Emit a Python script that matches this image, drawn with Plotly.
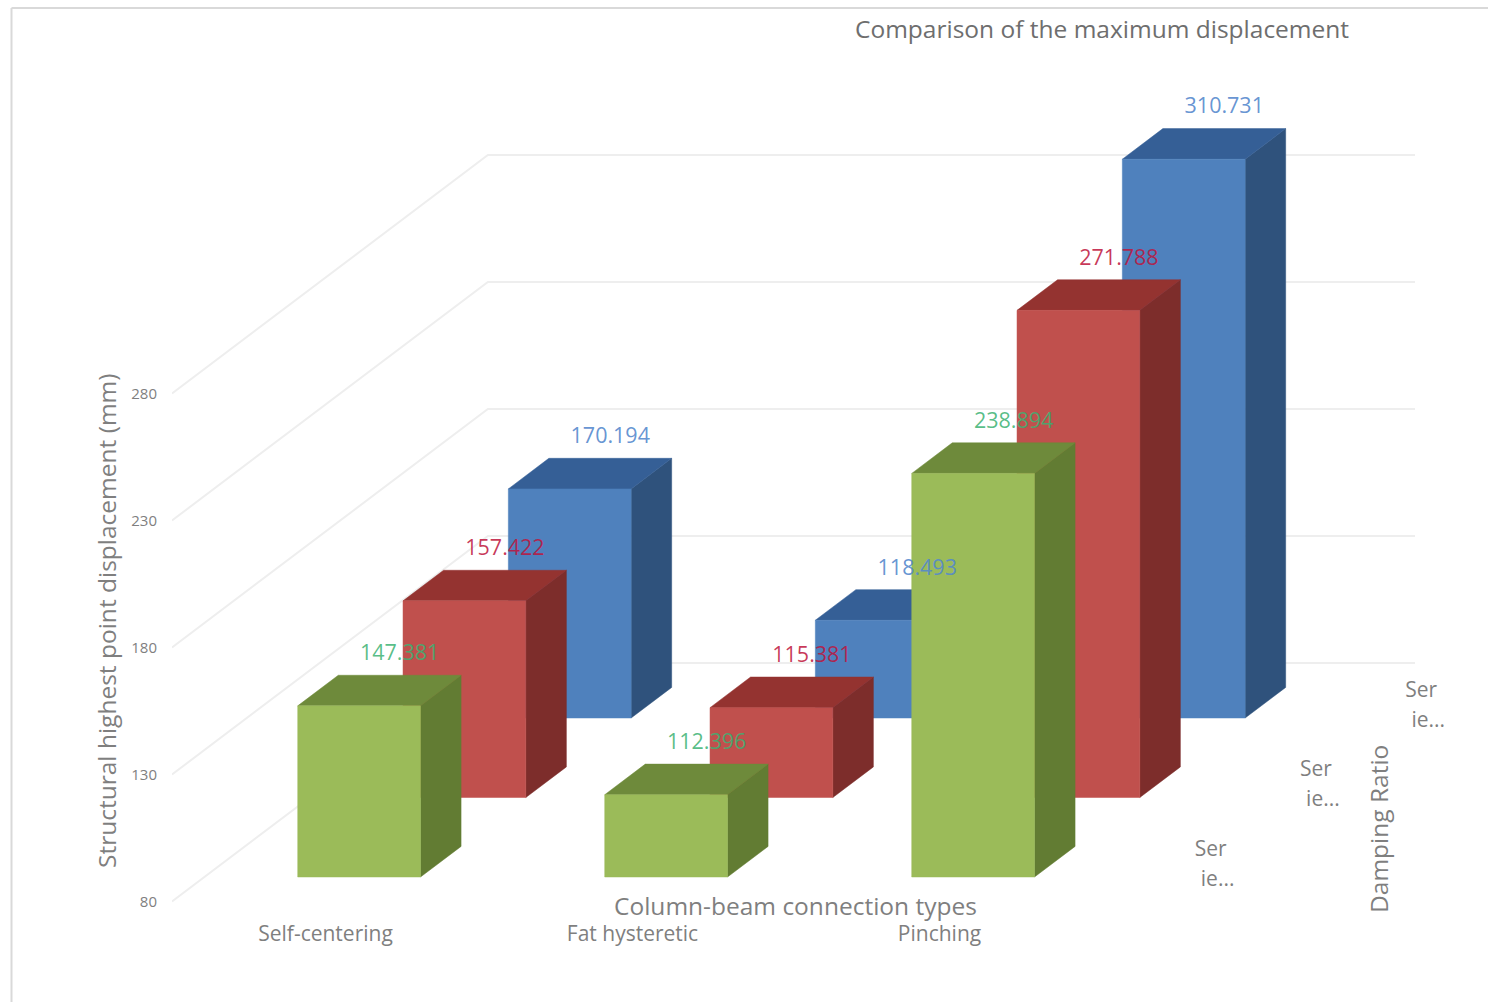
import plotly.graph_objects as go

# ---- data ----
categories = ["Self-centering", "Fat hysteretic", "Pinching"]
series_names = ["Series3", "Series2", "Series1"]          # back to front
values_blue = [170.194, 118.493, 310.731]
values_red = [157.422, 115.381, 271.788]
values_green = [147.381, 112.396, 238.894]
tick_values = [80, 130, 180, 230, 280]
depth_label_lines = ["Ser", "ie..."]

# ---- chart geometry (oblique 3-D column chart) ----
AXIS_MIN, AXIS_MAX = 80, 300
W, H = 1488, 1002
PX_CAT, PX_VAL = 307.0, 2.54      # pixels per category, per value unit
PX_DX, PX_DY = 105.3, 79.5        # pixels per depth unit
LEFT_PX, BOTTOM_PX, FLOOR_PX = 172, 919, 901.5
DX, DY = PX_DX / PX_CAT, PX_DY / PX_VAL
BAR_W, BAR_D = 0.40, 0.385
BAR_SHIFT = 1.2 / PX_CAT
DEPTH_START = 0.308
N_DEPTH = 3

FONT = "Open Sans"
GREY = "#7f7f7f"

styles = [
    dict(vals=values_blue, depth=2, front="#4f81bd", top="#355f96", side="#2f527c", text="rgba(84,136,205,0.9)"),
    dict(vals=values_red, depth=1, front="#c0504d", top="#943330", side="#7d2d2b", text="rgba(190,20,60,0.85)"),
    dict(vals=values_green, depth=0, front="#9bbb59", top="#6e8a3b", side="#627c33", text="rgba(60,178,115,0.85)"),
]


def proj(c, v, d):
    return c + DX * d, v + DY * d


def poly(points):
    xs, ys = [], []
    for c, v, d in points:
        x, y = proj(c, v, d)
        xs.append(x)
        ys.append(y)
    xs.append(xs[0])
    ys.append(ys[0])
    return xs, ys


def faces(vals, depth):
    d0 = depth + DEPTH_START
    d1 = d0 + BAR_D
    out = {"front": ([], []), "top": ([], []), "side": ([], [])}
    for i, raw in enumerate(vals):
        v = min(raw, AXIS_MAX)
        c0, c1 = i + BAR_SHIFT - BAR_W / 2, i + BAR_SHIFT + BAR_W / 2
        shapes = {
            "side": [(c1, AXIS_MIN, d0), (c1, AXIS_MIN, d1), (c1, v, d1), (c1, v, d0)],
            "top": [(c0, v, d0), (c1, v, d0), (c1, v, d1), (c0, v, d1)],
            "front": [(c0, AXIS_MIN, d0), (c1, AXIS_MIN, d0), (c1, v, d0), (c0, v, d0)],
        }
        for k, pts in shapes.items():
            xs, ys = poly(pts)
            out[k][0].extend(xs + [None])
            out[k][1].extend(ys + [None])
    return out


fig = go.Figure()

# wall gridlines
gx, gy = [], []
for t in tick_values:
    for c, d in [(-0.5, 0), (-0.5, N_DEPTH), (2.52, N_DEPTH)]:
        x, y = proj(c, t, d)
        gx.append(x)
        gy.append(y)
    gx.append(None)
    gy.append(None)
fig.add_trace(go.Scatter(x=gx, y=gy, mode="lines", line=dict(color="#eeeeee", width=2),
                         hoverinfo="skip", showlegend=False))

# columns, back to front
for name, st in zip(series_names, styles):
    f = faces(st["vals"], st["depth"])
    for k in ["side", "top", "front"]:
        fig.add_trace(go.Scatter(x=f[k][0], y=f[k][1], mode="lines", fill="toself",
                                 fillcolor=st[k], line=dict(width=0.5, color=st[k]),
                                 name=name, hoverinfo="skip", showlegend=False))

# data labels
LABEL_LIFT = 20.5 / PX_VAL
for name, st in zip(series_names, styles):
    d = st["depth"] + DEPTH_START + BAR_D
    lx, ly = [], []
    for i, raw in enumerate(st["vals"]):
        x, y = proj(i + BAR_SHIFT, min(raw, AXIS_MAX) + LABEL_LIFT, d)
        lx.append(x)
        ly.append(y)
    fig.add_trace(go.Scatter(x=lx, y=ly, mode="text", text=[f"{v:.3f}" for v in st["vals"]],
                             textposition="middle center",
                             textfont=dict(family=FONT, size=21.5, color=st["text"]),
                             hoverinfo="skip", showlegend=False, cliponaxis=False))

# depth-axis labels
for line_no, line in enumerate(depth_label_lines):
    lx, ly = [], []
    for s in range(N_DEPTH):
        x, y = proj(2.5 + (65 + 7 * line_no) / PX_CAT, AXIS_MIN + (11.5 - 30 * line_no) / PX_VAL, s + 0.5)
        lx.append(x)
        ly.append(y)
    fig.add_trace(go.Scatter(x=lx, y=ly, mode="text", text=[line] * N_DEPTH,
                             textposition="middle center",
                             textfont=dict(family=FONT, size=21, color=GREY),
                             hoverinfo="skip", showlegend=False, cliponaxis=False))


def note(text, x, y, size=24.5, color=GREY, angle=0):
    return dict(text=text, xref="paper", yref="paper", x=x / W, y=1 - y / H,
                xanchor="center", yanchor="middle", textangle=angle, showarrow=False,
                font=dict(family=FONT, size=size, color=color))


fig.update_layout(
    width=W, height=H, autosize=False,
    margin=dict(l=0, r=0, t=0, b=0),
    paper_bgcolor="white", plot_bgcolor="rgba(0,0,0,0)",
    showlegend=False,
    font=dict(family=FONT, color=GREY),
    xaxis=dict(
        domain=[LEFT_PX / W, 1],
        range=[-0.5, -0.5 + (W - LEFT_PX) / PX_CAT],
        tickvals=list(range(len(categories))), ticktext=categories,
        tickfont=dict(family=FONT, size=21, color=GREY),
        showgrid=False, zeroline=False, showline=False, ticks="", ticklabelstandoff=0,
    ),
    yaxis=dict(
        domain=[(H - BOTTOM_PX) / H, 1],
        range=[AXIS_MIN + (FLOOR_PX - BOTTOM_PX) / PX_VAL, AXIS_MIN + FLOOR_PX / PX_VAL],
        tickvals=tick_values,
        tickfont=dict(family=FONT, size=15, color=GREY),
        showgrid=False, zeroline=False, showline=False, ticks="",
        ticklabelstandoff=14, ticklabelshift=0,
    ),
    shapes=[
        dict(type="line", xref="paper", yref="paper", x0=11.5 / W, x1=1, y0=1 - 8 / H, y1=1 - 8 / H,
             line=dict(color="#d9d9d9", width=2)),
        dict(type="line", xref="paper", yref="paper", x0=11.5 / W, x1=11.5 / W, y0=1 - 8 / H, y1=0,
             line=dict(color="#d9d9d9", width=2)),
    ],
    annotations=[
        note("Comparison of the maximum displacement", 1102, 29, color="#6e6e6e"),
        note("Column-beam connection types", 795, 905),
        note("Structural highest point displacement (mm)", 106, 621, angle=-90),
        note("Damping Ratio", 1378, 829, angle=-90),
    ],
)

fig.write_html("out.html", config={"displayModeBar": False},
               post_script="document.body.style.margin='0';")
